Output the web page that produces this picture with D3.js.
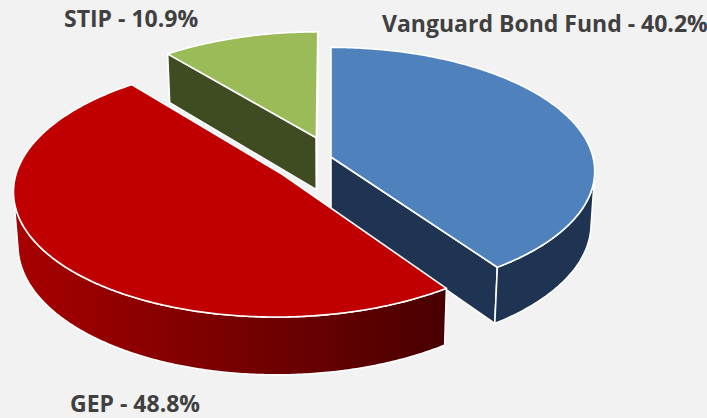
<!DOCTYPE html>
<html>
<head>
<meta charset="utf-8">
<script src="https://cdn.jsdelivr.net/npm/d3@7"></script>
<style>
  body { margin: 0; background: #f2f2f2; }
  text { font-family: "Open Sans", sans-serif; font-weight: 700; fill: #404040; }
</style>
</head>
<body>
<svg id="chart" width="707" height="418"></svg>
<script>
// fund shares, in pie order (clockwise from 12 o'clock)
const funds = ["Vanguard Bond Fund", "GEP", "STIP"];
const shares = [40.2, 48.8, 10.9];

// look of each slice
const topColours = ["#4f81bd", "#c00000", "#9bbb59"];
const sideColours = ["#1e3452", "url(#gepSide)", "#3f4c21"];
const explode = [0, 0.23, 0.17];
const labelPos = [[382, 32], [70, 412], [64, 27]];

const svg = d3.select('#chart');
svg.append('rect').attr('width', 707).attr('height', 418).attr('fill', '#f2f2f2');

const grad = svg.append('defs').append('linearGradient')
  .attr('id', 'gepSide')
  .attr('gradientUnits', 'userSpaceOnUse')
  .attr('x1', 10).attr('x2', 450).attr('y1', 0).attr('y2', 0);
grad.append('stop').attr('offset', 0).attr('stop-color', '#a90000');
grad.append('stop').attr('offset', 1).attr('stop-color', '#480000');

// simple perspective camera looking down on the pie
const cx = 331, cy = 157;
const tilt = 27.8 * Math.PI / 180;
const sinA = Math.sin(tilt), cosA = Math.cos(tilt);
const camDist = 7.73, focal = 2025, depth = 0.23;
const cam = { x: 0, y: camDist * sinA, z: camDist * cosA };

function project(x, y, z) {
  const zc = camDist - z * cosA - y * sinA;
  return [cx + focal * x / zc, cy + focal * (z * sinA - y * cosA) / zc];
}

const arcs = d3.pie().sort(null)(shares);
const line = d3.line().curve(d3.curveLinearClosed);

const slices = arcs.map((d, i) => {
  const mid = (d.startAngle + d.endAngle) / 2;
  return { d, i, ox: explode[i] * Math.sin(mid), oz: -explode[i] * Math.cos(mid) };
});

// far slices first
slices.sort((a, b) => a.oz - b.oz);

slices.forEach(s => {
  const { d, i, ox, oz } = s;
  const rim = (t, y) => project(ox + Math.sin(t), y, oz - Math.cos(t));
  const apex = y => project(ox, y, oz);
  const g = svg.append('g');
  const faces = [];

  // flat radial sides
  [[d.startAngle, -1], [d.endAngle, 1]].forEach(([t, sgn]) => {
    const nx = sgn * Math.cos(t), nz = sgn * Math.sin(t);
    const dot = nx * (cam.x - ox) + nz * (cam.z - oz);
    if (dot > 0.01) {
      faces.push([apex(0), rim(t, 0), rim(t, -depth), apex(-depth)]);
    }
  });

  // curved outer side, only the part turned towards the camera
  const steps = Math.max(8, Math.ceil((d.endAngle - d.startAngle) / 0.01));
  const angles = d3.range(steps + 1).map(k => d.startAngle + (d.endAngle - d.startAngle) * k / steps);
  const facing = t => Math.sin(t) * (cam.x - ox - Math.sin(t)) - Math.cos(t) * (cam.z - oz + Math.cos(t)) > 0;
  let run = [];
  const flush = () => {
    if (run.length > 1) {
      const topPts = run.map(t => rim(t, 0));
      const botPts = run.slice().reverse().map(t => rim(t, -depth));
      faces.push(topPts.concat(botPts));
    }
    run = [];
  };
  for (let k = 0; k < steps; k++) {
    const t0 = angles[k], t1 = angles[k + 1];
    if (facing((t0 + t1) / 2)) {
      if (run.length === 0) run.push(t0);
      run.push(t1);
    } else {
      flush();
    }
  }
  flush();

  faces.forEach(pts => {
    g.append('path')
      .attr('d', line(pts))
      .attr('fill', sideColours[i])
      .attr('stroke', '#fff')
      .attr('stroke-width', 1.6)
      .attr('stroke-linejoin', 'round');
  });

  // top face
  const topPts = [apex(0)].concat(angles.map(t => rim(t, 0)));
  g.append('path')
    .attr('d', line(topPts))
    .attr('fill', topColours[i])
    .attr('stroke', '#fff')
    .attr('stroke-width', 1.6)
    .attr('stroke-linejoin', 'round');
});

funds.forEach((name, i) => {
  svg.append('text')
    .attr('x', labelPos[i][0])
    .attr('y', labelPos[i][1])
    .attr('font-size', 23)
    .text(`${name} - ${shares[i].toFixed(1)}%`);
});
</script>
</body>
</html>
